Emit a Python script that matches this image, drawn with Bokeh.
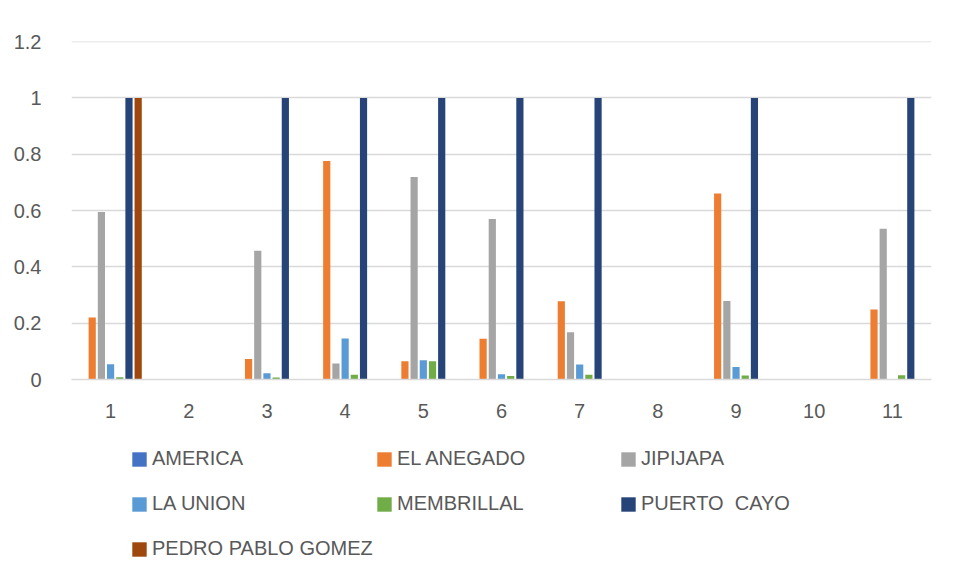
from bokeh.plotting import figure
from bokeh.layouts import column
from bokeh.models import ColumnDataSource, FactorRange, Range1d, FixedTicker, Legend, LegendItem
from bokeh.transform import dodge
from bokeh.embed import file_html
from bokeh.resources import INLINE

categories = ["1", "2", "3", "4", "5", "6", "7", "8", "9", "10", "11"]
series_names = ["AMERICA", "EL ANEGADO", "JIPIJAPA", "LA UNION", "MEMBRILLAL", "PUERTO  CAYO", "PEDRO PABLO GOMEZ"]
america = [0, 0, 0, 0, 0, 0, 0, 0, 0, 0, 0]
el_anegado = [0.22, 0, 0.073, 0.776, 0.065, 0.145, 0.278, 0, 0.661, 0, 0.249]
jipijapa = [0.595, 0, 0.457, 0.057, 0.719, 0.570, 0.168, 0, 0.279, 0, 0.535]
la_union = [0.054, 0, 0.022, 0.146, 0.068, 0.019, 0.053, 0, 0.044, 0, 0]
membrillal = [0.008, 0, 0.007, 0.017, 0.065, 0.012, 0.017, 0, 0.014, 0, 0.015]
puerto_cayo = [1, 0, 1, 1, 1, 1, 1, 0, 1, 0, 1]
pedro_pablo_gomez = [1, 0, 0, 0, 0, 0, 0, 0, 0, 0, 0]
y_ticks = [0, 0.2, 0.4, 0.6, 0.8, 1.0, 1.2]
y_tick_labels = ["0", "0.2", "0.4", "0.6", "0.8", "1", "1.2"]

colors = ["#4472C4", "#ED7D31", "#A5A5A5", "#5B9BD5", "#70AD47", "#264478", "#9E480E"]
series_values = [america, el_anegado, jipijapa, la_union, membrillal, puerto_cayo, pedro_pablo_gomez]

FONT = "Liberation Sans"
TXT = "#595959"
GRID = "#D9D9D9"
W = 956
BL, BR = 71, 25

data = {"cat": categories}
keys = []
for i, vals in enumerate(series_values):
    k = f"s{i}"
    keys.append(k)
    data[k] = vals
source = ColumnDataSource(data)

p = figure(width=W, height=430, x_range=FactorRange(*categories), y_range=Range1d(0, 1.2005),
           output_backend="svg", toolbar_location=None,
           min_border_left=BL, min_border_right=BR, min_border_top=41, min_border_bottom=51)
p.outline_line_color = None

slot = 0.1176
for i, k in enumerate(keys):
    p.vbar(x=dodge("cat", (i - 3) * slot, range=p.x_range), top=k, width=0.092,
           source=source, fill_color=colors[i], line_color=None)

p.xgrid.grid_line_color = None
p.ygrid.grid_line_color = GRID
p.ygrid.grid_line_width = 1.5

p.yaxis.ticker = FixedTicker(ticks=y_ticks)
p.yaxis.major_label_overrides = {t: l for t, l in zip(y_ticks, y_tick_labels)}
p.yaxis.axis_line_color = None
p.yaxis.major_tick_line_color = None
p.yaxis.minor_tick_line_color = None
p.yaxis.major_label_standoff = 24
p.xaxis.axis_line_color = GRID
p.xaxis.axis_line_width = 1.5
p.xaxis.major_tick_line_color = None
p.xaxis.minor_tick_line_color = None
p.xaxis.major_label_standoff = 18
for ax in (p.xaxis, p.yaxis):
    ax.major_label_text_font = FONT
    ax.major_label_text_font_size = "20px"
    ax.major_label_text_color = TXT

# legend panel (its bars lie below the visible y range; only the legend shows)
H2 = 148
p2 = figure(width=W, height=H2, x_range=FactorRange(*categories), y_range=Range1d(10, 11),
            output_backend="svg", toolbar_location=None,
            min_border_left=BL, min_border_right=BR, min_border_top=0, min_border_bottom=0)
p2.axis.visible = False
p2.grid.visible = False
p2.outline_line_color = None
leg_renderers = [p2.vbar(x="cat", top=k, width=0.1, source=source, fill_color=colors[i], line_color=None)
                 for i, k in enumerate(keys)]

columns = [[0, 3, 6], [1, 4], [2, 5]]
x_offsets = [59, 304, 548]
row_top = 17
item_h = 23
gap = 22
for col, xo in zip(columns, x_offsets):
    items = [LegendItem(label=series_names[j], renderers=[leg_renderers[j]]) for j in col]
    n = len(col)
    h = n * item_h + (n - 1) * gap
    leg = Legend(items=items, location=(xo, H2 - row_top - h), orientation="vertical",
                 glyph_width=18, glyph_height=18, label_height=20, label_standoff=4,
                 spacing=gap, padding=0, margin=0,
                 border_line_color=None, background_fill_alpha=0,
                 label_text_font=FONT, label_text_font_size="20px", label_text_color=TXT)
    p2.add_layout(leg, "center")

layout = column(p, p2, spacing=0)
open("out.html", "w").write(file_html(layout, INLINE))
